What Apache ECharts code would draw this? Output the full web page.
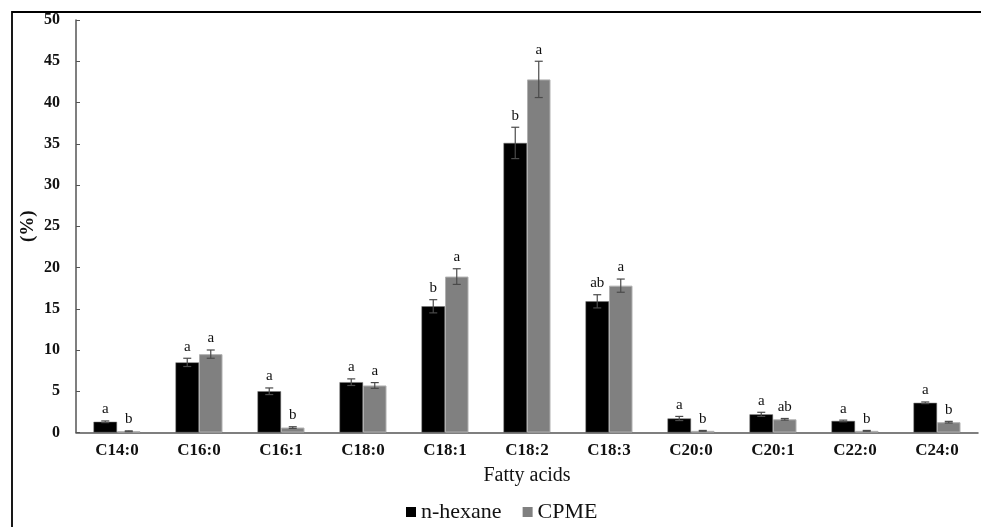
<!DOCTYPE html>
<html>
<head>
<meta charset="utf-8">
<script src="https://cdn.jsdelivr.net/npm/echarts@6/dist/echarts.min.js"></script>
<style>html,body{margin:0;padding:0;background:#fff;}#c{width:981px;height:527px;}</style>
</head>
<body>
<div id="c"></div>
<script>
const categories = ['C14:0','C16:0','C16:1','C18:0','C18:1','C18:2','C18:3','C20:0','C20:1','C22:0','C24:0'];
const hexane     = [1.3, 8.5, 5.0, 6.1, 15.3, 35.1, 15.9, 1.7, 2.2, 1.4, 3.6];
const hexaneErr  = [0.1, 0.5, 0.4, 0.4, 0.8, 1.9, 0.8, 0.25, 0.25, 0.1, 0.1];
const hexaneSig  = ['a','a','a','a','b','b','ab','a','a','a','a'];
const cpme       = [0.15, 9.5, 0.6, 5.7, 18.9, 42.8, 17.8, 0.2, 1.6, 0.2, 1.25];
const cpmeErr    = [0.05, 0.5, 0.1, 0.35, 0.95, 2.2, 0.8, 0.05, 0.1, 0.05, 0.1];
const cpmeSig    = ['b','a','b','a','a','a','a','b','ab','b','b'];
const yTicks     = [0, 5, 10, 15, 20, 25, 30, 35, 40, 45, 50];

const SERIF = '"Liberation Serif","DejaVu Serif",serif';
const BAR_W = 23.5;

function errSeries(vals, errs, sigs, sign) {
  return {
    type: 'custom',
    z: 5,
    silent: true,
    data: vals.map((v, i) => [i, v, errs[i]]),
    encode: { x: 0, y: 1 },
    renderItem: function (params, api) {
      const i = api.value(0), v = api.value(1), e = api.value(2);
      const top = api.coord([i, v + e]);
      const bot = api.coord([i, Math.max(0, v - e)]);
      const x = top[0] + sign * BAR_W / 2;
      const cap = 4;
      const st = { stroke: '#4a4a4a', lineWidth: 1.2 };
      return {
        type: 'group',
        children: [
          { type: 'line', shape: { x1: x, y1: top[1], x2: x, y2: bot[1] }, style: st },
          { type: 'line', shape: { x1: x - cap, y1: top[1], x2: x + cap, y2: top[1] }, style: st },
          { type: 'line', shape: { x1: x - cap, y1: bot[1], x2: x + cap, y2: bot[1] }, style: st },
          { type: 'text', style: { x: x, y: top[1] - 4, text: sigs[params.dataIndex], align: 'center', verticalAlign: 'bottom', fill: '#111', font: '15px ' + SERIF } }
        ]
      };
    }
  };
}

const chart = echarts.init(document.getElementById('c'));
chart.setOption({
  animation: false,
  backgroundColor: '#fff',
  grid: { left: 76, right: 3, top: 20, bottom: 94.5, containLabel: false },
  graphic: [{ type: 'rect', shape: { x: 12, y: 12, width: 1100, height: 700 }, style: { fill: 'none', stroke: '#000', lineWidth: 1.8 }, silent: true }],
  legend: {
    data: ['n-hexane', 'CPME'],
    left: 401, top: 496,
    icon: 'rect', itemWidth: 10, itemHeight: 10, itemGap: 21,
    itemStyle: { borderWidth: 0 },
    textStyle: { fontFamily: SERIF, fontSize: 22, color: '#111' }
  },
  xAxis: {
    type: 'category',
    data: categories,
    name: 'Fatty acids',
    nameLocation: 'middle',
    nameGap: 33,
    nameTextStyle: { fontFamily: SERIF, fontSize: 20, color: '#111' },
    axisLine: { lineStyle: { color: '#555', width: 1.5 } },
    axisTick: { inside: true, length: 4, lineStyle: { color: '#555' } },
    axisLabel: { fontFamily: SERIF, fontWeight: 'bold', fontSize: 17, color: '#111', margin: 10 }
  },
  yAxis: {
    type: 'value',
    min: yTicks[0], max: yTicks[yTicks.length - 1], interval: 5,
    name: '(%)',
    nameLocation: 'middle',
    nameGap: 38,
    nameMoveOverlap: false,
    nameTextStyle: { fontFamily: SERIF, fontSize: 19, fontWeight: 'bold', color: '#111' },
    splitLine: { show: false },
    axisLine: { show: true, lineStyle: { color: '#555', width: 1.5 } },
    axisTick: { show: true, inside: true, length: 4, lineStyle: { color: '#555' } },
    axisLabel: { fontFamily: SERIF, fontWeight: 'bold', fontSize: 16, color: '#111', margin: 16 }
  },
  series: [
    { name: 'n-hexane', type: 'bar', data: hexane, barWidth: BAR_W, barGap: '0%',
      itemStyle: { color: '#000', borderColor: '#777', borderWidth: 0.5 } },
    { name: 'CPME', type: 'bar', data: cpme, barWidth: BAR_W, barGap: '0%',
      itemStyle: { color: '#808080', borderColor: '#b0b0b0', borderWidth: 1 } },
    errSeries(hexane, hexaneErr, hexaneSig, -1),
    errSeries(cpme, cpmeErr, cpmeSig, 1)
  ]
});
</script>
</body>
</html>
